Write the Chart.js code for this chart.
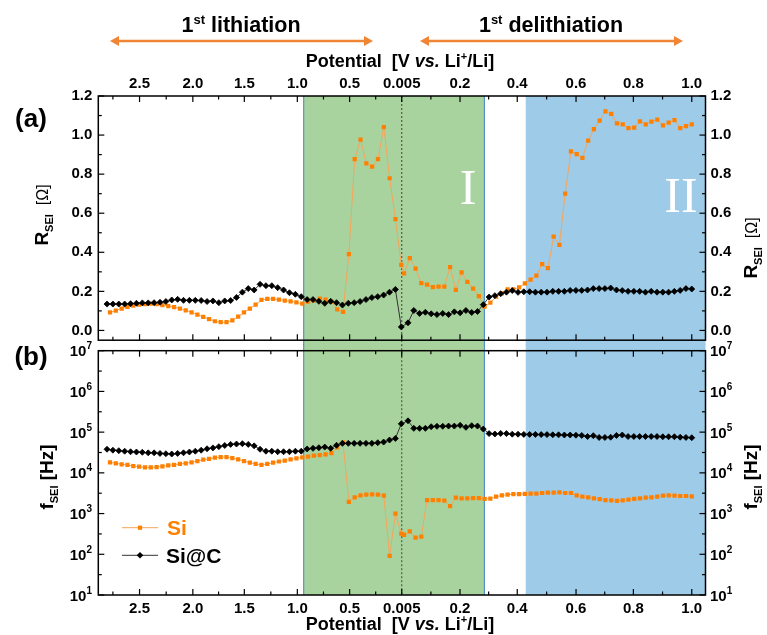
<!DOCTYPE html>
<html>
<head>
<meta charset="utf-8">
<script src="https://cdn.jsdelivr.net/npm/chart.js@4.4.0/dist/chart.umd.min.js"></script>
<style>
    html, body { margin: 0; padding: 0; background: #fff; }
    #wrap { position: relative; width: 767px; height: 635px; overflow: hidden; }
    #topBox { position: absolute; left: 0; top: 0; width: 767px; height: 345px; }
    #botBox { position: absolute; left: 0; top: 325px; width: 767px; height: 310px; }
</style>
</head>
<body>
<div id="wrap">
    <div id="topBox"><canvas id="topChart"></canvas></div>
    <div id="botBox"><canvas id="botChart"></canvas></div>
</div>
<script>
// x axis = measurement step (lithiation then delithiation), labelled with potential
const tickPos = [5.56, 14.67, 23.47, 32.53, 41.47, 50.38, 60.34, 70.12, 80.17, 89.97, 99.95];
const tickLabels = ['2.5', '2.0', '1.5', '1.0', '0.5', '0.005', '0.2', '0.4', '0.6', '0.8', '1.0'];
const xMin = -1.49, xMax = 102.3;
const regionI = [33.62, 64.5];
const regionII = [71.57, 102.3];
const cutoffPos = 50.38;

const rTicks = [0, 0.2, 0.4, 0.6, 0.8, 1.0, 1.2];
const fTicks = [1e1, 1e2, 1e3, 1e4, 1e5, 1e6, 1e7];

// step spans (first / last point position) of each branch
const siLithSpan = [0.51, 50.3];
const siDelithSpan = [50.77, 99.95];
const sicLithSpan = [0, 50.3];
const sicDelithSpan = [51.45, 99.95];

// R_SEI [Ohm]
const siR_lith = [0.092, 0.102, 0.112, 0.120, 0.127, 0.132, 0.135, 0.137, 0.135, 0.130, 0.125, 0.119, 0.112, 0.103, 0.093, 0.081, 0.069,
    0.058, 0.047, 0.042, 0.042, 0.051, 0.071, 0.092, 0.112, 0.132, 0.156, 0.161, 0.161, 0.158, 0.153, 0.149, 0.144, 0.137,
    0.148, 0.154, 0.163, 0.158, 0.148, 0.108, 0.095, 0.390, 0.877, 0.977, 0.855, 0.838, 0.877, 1.041, 0.779, 0.570, 0.336];
const siR_delith = [0.292, 0.370, 0.316, 0.242, 0.234, 0.222, 0.224, 0.224, 0.324, 0.207, 0.297, 0.249, 0.214, 0.176, 0.122, 0.142, 0.173,
    0.190, 0.210, 0.210, 0.220, 0.241, 0.260, 0.280, 0.339, 0.319, 0.480, 0.438, 0.700, 0.916, 0.902, 0.883, 0.972, 1.030,
    1.074, 1.121, 1.109, 1.060, 1.055, 1.035, 1.038, 1.070, 1.055, 1.069, 1.079, 1.050, 1.064, 1.077, 1.036, 1.046, 1.055];
const sicR_lith = [0.135, 0.135, 0.135, 0.135, 0.137, 0.139, 0.141, 0.141, 0.142, 0.144, 0.148, 0.156, 0.159, 0.154, 0.154, 0.154, 0.153,
    0.148, 0.151, 0.142, 0.151, 0.153, 0.169, 0.196, 0.214, 0.207, 0.236, 0.229, 0.229, 0.219, 0.207, 0.193, 0.185, 0.173,
    0.158, 0.158, 0.149, 0.139, 0.149, 0.142, 0.130, 0.139, 0.142, 0.148, 0.158, 0.168, 0.173, 0.181, 0.196, 0.210, 0.018];
const sicR_delith = [0.039, 0.102, 0.087, 0.093, 0.085, 0.081, 0.087, 0.081, 0.095, 0.090, 0.102, 0.092, 0.097, 0.132, 0.171, 0.178, 0.188,
    0.196, 0.204, 0.195, 0.198, 0.198, 0.196, 0.196, 0.196, 0.200, 0.200, 0.200, 0.205, 0.205, 0.205, 0.207, 0.214, 0.214,
    0.214, 0.217, 0.207, 0.204, 0.200, 0.200, 0.200, 0.196, 0.200, 0.196, 0.196, 0.196, 0.200, 0.205, 0.214, 0.212];

// f_SEI [Hz]
const siF_lith = [1.82e4, 1.72e4, 1.62e4, 1.56e4, 1.47e4, 1.42e4, 1.37e4, 1.37e4, 1.39e4, 1.45e4, 1.53e4, 1.58e4, 1.65e4, 1.72e4,
    1.82e4, 1.95e4, 2.1e4, 2.2e4, 2.35e4, 2.45e4, 2.45e4, 2.3e4, 2.15e4, 1.95e4, 1.78e4, 1.65e4, 1.58e4, 1.65e4, 1.78e4, 1.9e4,
    2.0e4, 2.15e4, 2.27e4, 2.4e4, 2.5e4, 2.64e4, 2.74e4, 2.85e4, 3.07e4, 4.2e4, 5.6e4, 1.95e3, 2.5e3, 2.8e3, 2.9e3, 2.97e3,
    2.9e3, 2.75e3, 91, 990, 320];
const siF_delith = [300, 366, 256, 270, 2.15e3, 2.15e3, 2.15e3, 2.07e3, 1.53e3, 2.45e3, 2.37e3, 2.37e3, 2.4e3, 2.4e3, 2.28e3, 2.32e3,
    2.6e3, 2.8e3, 2.9e3, 3.0e3, 3.0e3, 3.05e3, 3.1e3, 3.1e3, 3.2e3, 3.25e3, 3.25e3, 3.3e3, 3.2e3, 3.2e3, 2.8e3, 2.6e3, 2.5e3,
    2.35e3, 2.25e3, 2.15e3, 2.1e3, 2.05e3, 2.1e3, 2.2e3, 2.3e3, 2.35e3, 2.45e3, 2.5e3, 2.6e3, 2.75e3, 2.8e3, 2.75e3, 2.7e3,
    2.7e3, 2.65e3];
const sicF_lith = [3.8e4, 3.6e4, 3.5e4, 3.4e4, 3.3e4, 3.25e4, 3.2e4, 3.1e4, 3.1e4, 3.0e4, 2.95e4, 2.9e4, 3.0e4, 3.1e4, 3.25e4, 3.4e4,
    3.6e4, 3.9e4, 4.1e4, 4.4e4, 4.7e4, 5.0e4, 5.1e4, 5.2e4, 5.0e4, 4.6e4, 3.8e4, 3.4e4, 3.4e4, 3.3e4, 3.3e4, 3.3e4, 3.4e4, 3.4e4,
    3.86e4, 4.0e4, 4.15e4, 4.3e4, 4.0e4, 4.75e4, 5.3e4, 5.3e4, 5.3e4, 5.3e4, 5.3e4, 5.3e4, 5.5e4, 5.7e4, 6.4e4, 7.0e4, 1.6e5];
const sicF_delith = [1.9e5, 1.24e5, 1.24e5, 1.24e5, 1.36e5, 1.39e5, 1.39e5, 1.41e5, 1.41e5, 1.47e5, 1.31e5, 1.44e5, 1.41e5, 1.19e5,
    9.2e4, 9.0e4, 9.3e4, 9.2e4, 8.9e4, 8.9e4, 8.8e4, 8.8e4, 8.8e4, 8.7e4, 8.7e4, 8.6e4, 8.6e4, 8.5e4, 8.5e4, 8.4e4, 8.3e4, 7.8e4,
    8.2e4, 7.4e4, 7.4e4, 7.5e4, 8.3e4, 8.5e4, 7.8e4, 7.8e4, 7.8e4, 7.8e4, 7.8e4, 7.8e4, 7.7e4, 7.7e4, 7.7e4, 7.5e4, 7.4e4, 7.3e4];

const FONT = '"Liberation Sans", Arial, sans-serif';
const SERIF = '"Liberation Serif", "Times New Roman", serif';
const ORANGE = '#ff8000';
const ORANGE_LINE = '#f6a55a';
const ARROW = '#f08536';
const GREEN = '#a9d39e';
const BLUE = '#9ecbe8';

// place evenly spaced measurements between the first and last step position
function spread(vals, span) {
    const n = vals.length;
    return vals.map((v, i) => ({ x: span[0] + (span[1] - span[0]) * i / (n - 1), y: v }));
}

function fixSize(prop, size) {
    return s => {
        s[prop] = size;
        s.paddingLeft = s.paddingRight = s.paddingTop = s.paddingBottom = 0;
    };
}

const tickFont = { family: FONT, size: 15, weight: 'bold' };

function xScale(position) {
    return {
        type: 'linear', position, min: xMin, max: xMax,
        grid: { display: false, drawTicks: false }, border: { display: false },
        afterBuildTicks: s => { s.ticks = tickPos.map(v => ({ value: v })); },
        ticks: {
            font: tickFont, color: '#000', autoSkip: false, maxRotation: 0,
            padding: position === 'top' ? 3 : 5,
            callback: (v, i) => tickLabels[i]
        },
        afterFit: fixSize('height', position === 'top' ? 96 : 40)
    };
}

function rScale(position) {
    return {
        type: 'linear', position, min: -0.05, max: 1.2,
        grid: { display: false, drawTicks: false }, border: { display: false },
        afterBuildTicks: s => { s.ticks = rTicks.map(v => ({ value: v })); },
        ticks: { font: tickFont, color: '#000', padding: position === 'left' ? 6 : 5, callback: v => v.toFixed(1) },
        afterFit: fixSize('width', position === 'left' ? 98.3 : 61.5)
    };
}

function fScale(position) {
    return {
        type: 'logarithmic', position, min: 10, max: 1e7,
        grid: { display: false, drawTicks: false }, border: { display: false },
        ticks: { display: false },
        afterFit: fixSize('width', position === 'left' ? 98.3 : 61.5)
    };
}

function series(label, lith, delith, spans, yAxisID) {
    const isSi = label === 'Si';
    return {
        label, yAxisID,
        data: spread(lith, spans[0]).concat(spread(delith, spans[1])),
        borderColor: isSi ? ORANGE_LINE : '#333',
        borderWidth: 1,
        pointStyle: isSi ? 'rect' : 'rectRot',
        pointRadius: 3,
        pointBackgroundColor: isSi ? ORANGE : '#000',
        pointBorderColor: isSi ? ORANGE : '#000',
        pointBorderWidth: isSi ? 0 : 0.8,
        tension: 0
    };
}

// ---- drawing helpers ----
function fontStr(p) {
    return `${p.style || 'normal'} ${p.weight || 'bold'} ${p.size}px ${p.family || FONT}`;
}

function rich(ctx, parts, x, y, align) {
    let w = 0;
    parts.forEach(p => { ctx.font = fontStr(p); p.w = ctx.measureText(p.t).width; w += p.w; });
    let cx = align === 'center' ? x - w / 2 : align === 'right' ? x - w : x;
    ctx.textAlign = 'left';
    ctx.textBaseline = 'alphabetic';
    parts.forEach(p => {
        ctx.font = fontStr(p);
        ctx.fillStyle = p.color || '#000';
        ctx.fillText(p.t, cx, y + (p.dy || 0));
        cx += p.w;
    });
}

function rotated(ctx, parts, x, y) {
    ctx.save();
    ctx.translate(x, y);
    ctx.rotate(-Math.PI / 2);
    rich(ctx, parts, 0, 0, 'center');
    ctx.restore();
}

function line(ctx, x0, y0, x1, y1) {
    ctx.beginPath();
    ctx.moveTo(x0, y0);
    ctx.lineTo(x1, y1);
    ctx.stroke();
}

function doubleArrow(ctx, x0, x1, y) {
    const head = 9, half = 5;
    ctx.strokeStyle = ARROW;
    ctx.fillStyle = ARROW;
    ctx.lineWidth = 2.5;
    line(ctx, x0 + head - 1, y, x1 - head + 1, y);
    ctx.beginPath();
    ctx.moveTo(x0, y); ctx.lineTo(x0 + head, y - half); ctx.lineTo(x0 + head, y + half); ctx.closePath();
    ctx.fill();
    ctx.beginPath();
    ctx.moveTo(x1, y); ctx.lineTo(x1 - head, y - half); ctx.lineTo(x1 - head, y + half); ctx.closePath();
    ctx.fill();
}

function potentialTitle(size, sup) {
    return [
        { t: 'Potential  [V ', size },
        { t: 'vs.', size, style: 'italic' },
        { t: ' Li', size },
        { t: '+', size: sup, dy: -7 },
        { t: '/Li]', size }
    ];
}

const panelDecor = {
    id: 'panelDecor',
    beforeDatasetsDraw(chart, args, opts) {
        const { ctx, chartArea: a, scales: { x } } = chart;
        const isTop = opts.panel === 'top';
        // shaded regions also fill the gap between the two panels
        const y0 = isTop ? a.top : a.top - 6.5;
        const y1 = isTop ? a.bottom + 5 : a.bottom;
        const g0 = x.getPixelForValue(regionI[0]), g1 = x.getPixelForValue(regionI[1]);
        const b0 = x.getPixelForValue(regionII[0]), b1 = x.getPixelForValue(regionII[1]);
        ctx.save();
        ctx.fillStyle = GREEN;
        ctx.fillRect(g0, y0, g1 - g0, y1 - y0);
        ctx.fillStyle = BLUE;
        ctx.fillRect(b0, y0, b1 - b0, y1 - y0);
        ctx.strokeStyle = '#3d84c6';
        ctx.lineWidth = 1;
        line(ctx, g0, y0, g0, y1);
        line(ctx, g1, y0, g1, y1);
        const c = x.getPixelForValue(cutoffPos);
        ctx.strokeStyle = '#444';
        ctx.setLineDash([2, 2]);
        line(ctx, c, y0, c, y1);
        ctx.setLineDash([]);
        if (isTop) {
            ctx.fillStyle = '#fff';
            ctx.textAlign = 'center';
            ctx.textBaseline = 'middle';
            ctx.font = `50px ${SERIF}`;
            ctx.fillText('I', 468, 191);
            ctx.fillText('II', 681, 199);
        }
        ctx.restore();
    },
    afterDatasetsDraw(chart, args, opts) {
        const { ctx, chartArea: a, scales: { x, y } } = chart;
        const isTop = opts.panel === 'top';
        ctx.save();
        ctx.strokeStyle = '#000';
        ctx.lineWidth = 1.5;
        ctx.strokeRect(a.left, a.top, a.width, a.height);
        ctx.lineWidth = 1.2;
        const minorX = [tickPos[0] - (tickPos[1] - tickPos[0]) / 2];
        for (let i = 1; i < tickPos.length; i++) minorX.push((tickPos[i - 1] + tickPos[i]) / 2);
        tickPos.forEach(v => {
            const px = x.getPixelForValue(v);
            line(ctx, px, a.top, px, a.top + 6);
            line(ctx, px, a.bottom, px, a.bottom - 6);
        });
        minorX.forEach(v => {
            const px = x.getPixelForValue(v);
            line(ctx, px, a.top, px, a.top + 3.5);
            line(ctx, px, a.bottom, px, a.bottom - 3.5);
        });
        const major = isTop ? rTicks : fTicks;
        const minor = isTop ? rTicks.slice(1).map(v => v - 0.1) : fTicks.slice(1).map(v => v / Math.sqrt(10));
        major.forEach(v => {
            const py = y.getPixelForValue(v);
            line(ctx, a.left, py, a.left + 6, py);
            line(ctx, a.right, py, a.right - 6, py);
        });
        minor.forEach(v => {
            const py = y.getPixelForValue(v);
            line(ctx, a.left, py, a.left + 3.5, py);
            line(ctx, a.right, py, a.right - 3.5, py);
        });
        ctx.restore();
    },
    afterDraw(chart, args, opts) {
        const { ctx, chartArea: a, scales: { y } } = chart;
        ctx.save();
        if (opts.panel === 'top') {
            rich(ctx, [{ t: '1', size: 21.5 }, { t: 'st', size: 13, dy: -8 }, { t: ' lithiation', size: 21.5 }], 241, 32, 'center');
            rich(ctx, [{ t: '1', size: 21.5 }, { t: 'st', size: 13, dy: -8 }, { t: ' delithiation', size: 21.5 }], 551, 32, 'center');
            doubleArrow(ctx, 110, 373, 41);
            doubleArrow(ctx, 420, 683, 41);
            rich(ctx, potentialTitle(18, 11), 400, 67, 'center');
            rich(ctx, [{ t: '(a)', size: 26 }], 31, 127, 'center');
            const rLabel = () => [
                { t: 'R', size: 19 },
                { t: 'SEI', size: 11, dy: 5 },
                { t: '  [Ω]', size: 16, weight: 'normal' }
            ];
            rotated(ctx, rLabel(), 48, 215);
            rotated(ctx, rLabel(), 757, 248);
        } else {
            // positions below are relative to the panel's top edge
            const t = a.top;
            fTicks.forEach(v => {
                const py = y.getPixelForValue(v);
                const exp = String(Math.round(Math.log10(v)));
                const parts = () => [{ t: '10', size: 15 }, { t: exp, size: 10, dy: -7 }];
                rich(ctx, parts(), 92, py + 5.5, 'right');
                rich(ctx, parts(), 710, py + 5.5, 'left');
            });
            rich(ctx, [{ t: '(b)', size: 26 }], 31, t + 14.3, 'center');
            const fLabel = () => [
                { t: 'f', size: 19 },
                { t: 'SEI', size: 11, dy: 5 },
                { t: ' [Hz]', size: 19 }
            ];
            rotated(ctx, fLabel(), 53, t + 126.3);
            rotated(ctx, fLabel(), 757, t + 126.3);
            rich(ctx, potentialTitle(18, 11), 400, a.bottom + 35, 'center');

            // legend
            const l1 = t + 177, l2 = t + 204.6;
            ctx.lineWidth = 1;
            ctx.strokeStyle = ORANGE_LINE;
            line(ctx, 122, l1, 158, l1);
            ctx.fillStyle = ORANGE;
            ctx.fillRect(137.9, l1 - 2.1, 4.2, 4.2);
            rich(ctx, [{ t: 'Si', size: 21, color: ORANGE }], 167, l1 + 7.6, 'left');
            ctx.strokeStyle = '#333';
            line(ctx, 122, l2, 158, l2);
            ctx.fillStyle = '#000';
            ctx.beginPath();
            ctx.moveTo(140, l2 - 3.3); ctx.lineTo(143.3, l2); ctx.lineTo(140, l2 + 3.3); ctx.lineTo(136.7, l2); ctx.closePath();
            ctx.fill();
            rich(ctx, [{ t: 'Si@C', size: 21 }], 166, l2 + 7.6, 'left');
        }
        ctx.restore();
    }
};

function baseOptions(panel) {
    return {
        responsive: true,
        maintainAspectRatio: false,
        animation: false,
        layout: { padding: panel === 'top' ? { top: 0, bottom: 3.3, left: 0, right: 0 } : { top: 25.7, bottom: 0, left: 0, right: 0 } },
        plugins: { legend: { display: false }, tooltip: { enabled: false }, panelDecor: { panel } },
        elements: { line: { borderJoinStyle: 'round' } }
    };
}

const topOptions = baseOptions('top');
topOptions.scales = { x: xScale('top'), y: rScale('left'), y2: rScale('right') };
new Chart(document.getElementById('topChart'), {
    type: 'line',
    data: {
        datasets: [
            series('Si@C', sicR_lith, sicR_delith, [sicLithSpan, sicDelithSpan], 'y'),
            series('Si', siR_lith, siR_delith, [siLithSpan, siDelithSpan], 'y')
        ]
    },
    options: topOptions,
    plugins: [panelDecor]
});

const botOptions = baseOptions('bottom');
botOptions.scales = { x: xScale('bottom'), y: fScale('left'), y2: fScale('right') };
new Chart(document.getElementById('botChart'), {
    type: 'line',
    data: {
        datasets: [
            series('Si@C', sicF_lith, sicF_delith, [sicLithSpan, sicDelithSpan], 'y'),
            series('Si', siF_lith, siF_delith, [siLithSpan, siDelithSpan], 'y')
        ]
    },
    options: botOptions,
    plugins: [panelDecor]
});
</script>
</body>
</html>
